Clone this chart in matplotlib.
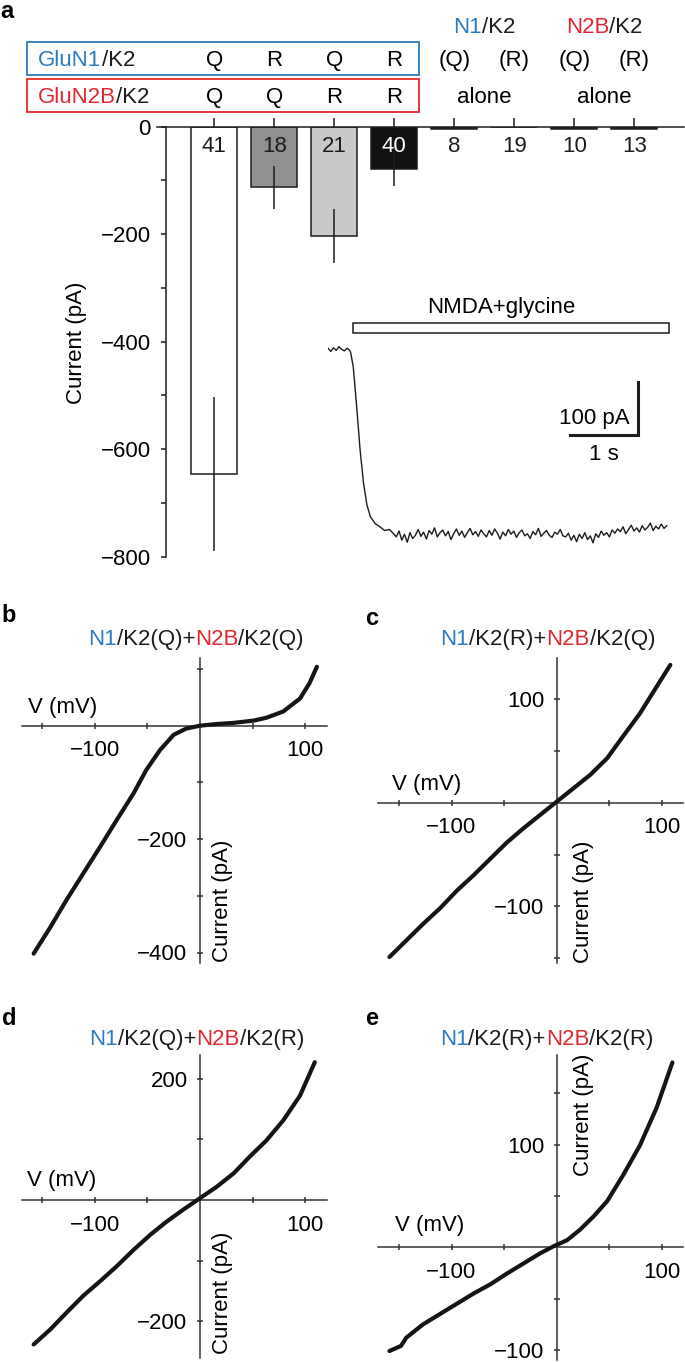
import numpy as np
import matplotlib.pyplot as plt
import matplotlib.transforms as mtransforms
from matplotlib.patches import Rectangle

plt.rcParams['font.family'] = ['Liberation Sans', 'DejaVu Sans']
plt.rcParams['font.size'] = 16
plt.rcParams['axes.linewidth'] = 1.1

W, H = 685, 1362
BLUE = '#2b7bbf'
RED = '#e3262d'
INK = '#1c1c1c'

# ===================== data: panel a (bar chart) =====================
n_cells = ['41', '18', '21', '40', '8', '19', '10', '13']
mean_current = [-646, -113, -203, -79, -4, 0, -4, -4]
sem_current = [143, 40, 50, 31, 0, 0, 0, 0]
bar_colors = ['white', '#8f9092', '#c8c9cb', '#111111', '#333333', '#333333', '#333333', '#333333']
row_n1 = ['Q', 'R', 'Q', 'R', '(Q)', '(R)', '(Q)', '(R)']
row_n2b = ['Q', 'Q', 'R', 'R']

# inset trace (s, pA): onset part, then plateau sampled every 0.04 s from 1.00 s
trace_t_onset = [0.00, 0.04, 0.08, 0.12, 0.16, 0.20, 0.24, 0.28, 0.31, 0.33, 0.37,
                 0.42, 0.47, 0.52, 0.57, 0.62, 0.69, 0.76, 0.83, 0.90, 0.96]
trace_i_onset = [2, -4, 3, -2, 5, 0, -3, 2, -1, -5, -33,
                 -108, -189, -251, -292, -314, -327, -333, -340, -338, -346]
trace_i_plateau = [
    -352, -341, -358, -347, -362, -344, -355,
    -349, -338, -351, -343, -356, -340, -347, -335, -352, -344, -339, -350, -342,
    -357, -346, -337, -349, -341, -353, -344, -336, -348, -342, -351, -339,
    -346, -352, -340, -349, -337, -345, -356, -343, -350, -338, -347, -341, -353,
    -344, -339, -350, -346, -355, -342, -348, -336, -351, -345, -340, -349, -353,
    -343, -347, -338, -350,
    -352, -345, -358, -349, -361, -347, -355, -344, -357, -350, -363, -346, -353,
    -341, -349, -344, -352, -339,
    -345, -337, -342, -333, -346, -338, -330, -341, -335, -343, -331, -339, -334,
    -326, -340, -332, -337, -328, -336, -331]

# ===================== data: panels b-e (I-V curves) =====================
V_b = [-158, -142, -127, -111, -95, -79, -63, -51, -38, -25, -13, 0, 16, 32, 51, 63, 79, 95, 104, 111]
I_b = [-402, -355, -308, -261, -214, -166, -119, -78, -43, -16, -5, 0, 3, 5, 9, 14, 25, 48, 75, 104]

V_c = [-159, -143, -127, -111, -95, -79, -63, -48, -32, -16, 0, 16, 32, 48, 63, 79, 95, 108]
I_c = [-149, -133, -117, -102, -85, -70, -54, -39, -25, -12, 1, 14, 27, 43, 64, 86, 112, 133]

V_d = [-158, -142, -127, -111, -95, -79, -63, -47, -32, -16, 0, 16, 32, 47, 63, 79, 95, 109]
I_d = [-238, -213, -186, -158, -134, -109, -82, -57, -36, -16, 3, 22, 44, 71, 98, 131, 172, 227]

V_e = [-159, -148, -143, -127, -111, -95, -79, -63, -48, -32, -16, -3, 10, 22, 35, 48, 63, 79, 95, 110]
I_e = [-101, -96, -88, -75, -65, -55, -45, -36, -26, -16, -6, 1, 7, 17, 30, 45, 70, 99, 136, 180]

fig = plt.figure(figsize=(W / 100, H / 100), dpi=100)


def fx(x):
    return x / W


def fy(y):
    return 1 - y / H


def axes_px(left, top, right, bottom):
    return fig.add_axes([fx(left), fy(bottom), (right - left) / W, (bottom - top) / H])


def multicolor(x, y, parts, ha='center', size=16):
    # place differently coloured pieces of one label next to each other
    r = fig.canvas.get_renderer()
    arts = [fig.text(0, fy(y), s, color=c, va='baseline', ha='left', fontsize=size) for s, c in parts]
    widths = [a.get_window_extent(r).width for a in arts]
    x0 = x - sum(widths) / 2 if ha == 'center' else x
    for a, w in zip(arts, widths):
        a.set_x(fx(x0))
        x0 += w


# ===================== panel a =====================
ax = axes_px(156.7, 126.7, 684, 556.7)
xpos = np.arange(len(n_cells))
ax.set_xlim(-0.96, 7.83)
ax.set_ylim(-800, 0)
ax.bar(xpos, mean_current, width=0.76, color=bar_colors, edgecolor=INK, linewidth=1.1, zorder=2)
ax.errorbar(xpos[:4], mean_current[:4], yerr=sem_current[:4], fmt='none',
            ecolor=INK, elinewidth=1.1, capsize=0, zorder=3)
for i, lbl in enumerate(n_cells):
    ax.text(i, -46.5, lbl, ha='center', va='baseline', fontsize=16,
            color='white' if i == 3 else INK, zorder=4)

for s in ['right', 'bottom']:
    ax.spines[s].set_visible(False)
ax.spines['left'].set_position(('data', -0.81))
ax.spines['top'].set_color(INK)
ax.spines['left'].set_color(INK)
ax.xaxis.tick_top()
ax.set_xticks(xpos)
ax.set_xticklabels([])
ax.tick_params(axis='x', direction='out', length=6.5, width=1.1, color=INK, top=True, bottom=False)
ax.set_yticks(np.arange(-800, 1, 100))
ax.set_yticklabels(['\u2212800', '', '\u2212600', '', '\u2212400', '', '\u2212200', '', '0'])
ax.tick_params(axis='y', direction='out', length=3.6, width=1.1, color=INK, pad=7, labelsize=16)
ax.patch.set_alpha(0)
fig.text(fx(76.7), fy(342.5), 'Current (pA)', rotation=90, ha='center', va='center', fontsize=16)

# header rows above the bars
hdr = mtransforms.blended_transform_factory(ax.transData, fig.transFigure)
for i, s in enumerate(row_n1):
    ax.text(i, fy(65.7), s, transform=hdr, ha='center', va='baseline', fontsize=16)
for i, s in enumerate(row_n2b):
    ax.text(i, fy(102.7), s, transform=hdr, ha='center', va='baseline', fontsize=16)
ax.text(4.5, fy(102.7), 'alone', transform=hdr, ha='center', va='baseline', fontsize=16)
ax.text(6.5, fy(102.7), 'alone', transform=hdr, ha='center', va='baseline', fontsize=16)

fig.add_artist(Rectangle((fx(27.3), fy(75)), (419.3 - 27.3) / W, (75 - 41.7) / H,
                         fill=False, edgecolor=BLUE, lw=1.3, transform=fig.transFigure))
fig.add_artist(Rectangle((fx(27.3), fy(112.3)), (419.3 - 27.3) / W, (112.3 - 79) / H,
                         fill=False, edgecolor=RED, lw=1.3, transform=fig.transFigure))
multicolor(38.3, 65.7, [('GluN1', BLUE), ('/K2', INK)], ha='left')
multicolor(38.3, 102.7, [('GluN2B', RED), ('/K2', INK)], ha='left')
multicolor(484.3, 32.7, [('N1', BLUE), ('/K2', INK)])
multicolor(604.3, 32.7, [('N2B', RED), ('/K2', INK)])

# inset current trace
axt = axes_px(328, 300, 328 + 5 * 68.3, 560)
axt.set_xlim(0, 5)
axt.set_ylim(-395.3, 92.5)
axt.axis('off')
t_plateau = 1.0 + 0.04 * np.arange(len(trace_i_plateau))
axt.plot(np.concatenate([trace_t_onset, t_plateau]),
         np.concatenate([trace_i_onset, trace_i_plateau]), color=INK, lw=1.0)
axt.add_patch(Rectangle((0.36, 31), 4.63, 19, facecolor='white', edgecolor=INK, lw=1.1))
axt.text(2.53, 67.5, 'NMDA+glycine', ha='center', va='baseline', fontsize=16)
axt.plot([3.54, 4.54, 4.54], [-161, -161, -61], color=INK, lw=2.2, solid_joinstyle='miter')
axt.text(4.42, -140, '100 pA', ha='right', va='baseline', fontsize=16)
axt.text(4.04, -207.5, '1 s', ha='center', va='baseline', fontsize=16)


# ===================== panels b-e =====================
def iv_panel(ox, oy, kx, ky, left, top, right, bottom, V, I, yticks, ylabels):
    a = axes_px(left, top, right, bottom)
    a.set_xlim((left - ox) / kx, (right - ox) / kx)
    a.set_ylim((oy - bottom) / ky, (oy - top) / ky)
    a.plot(V, I, color='#151515', lw=3.0, solid_capstyle='round', clip_on=False, zorder=3)
    for s in ['top', 'right']:
        a.spines[s].set_visible(False)
    for s in ['left', 'bottom']:
        a.spines[s].set_position(('data', 0))
        a.spines[s].set_color('#333333')
    a.set_xticks([-150, -100, -50, 50, 100])
    a.set_xticklabels(['', '\u2212100', '', '', '100'])
    a.set_yticks(yticks)
    a.set_yticklabels(ylabels)
    a.tick_params(axis='x', direction='inout', length=5, width=1.1, color='#333333', pad=8, labelsize=16)
    a.tick_params(axis='y', direction='inout', length=5, width=1.1, color='#333333', pad=6.5, labelsize=16)
    a.patch.set_alpha(0)
    return a


iv_panel(200, 725.7, 1.053, 0.567, 21.7, 658.3, 326.7, 963.3, V_b, I_b,
         [100, -100, -200, -300, -400], ['', '', '\u2212200', '', '\u2212400'])
iv_panel(556.7, 802.7, 1.052, 1.036, 378.3, 658.3, 683.3, 963.3, V_c, I_c,
         [100, 50, -50, -100, -150], ['100', '', '', '\u2212100', ''])
iv_panel(200, 1200, 1.053, 0.607, 21.7, 1055, 326.7, 1358, V_d, I_d,
         [200, 100, -100, -200], ['200', '', '', '\u2212200'])
iv_panel(556.7, 1247.3, 1.052, 1.027, 378.3, 1055, 683.3, 1360, V_e, I_e,
         [150, 100, 50, -50, -100], ['', '100', '', '', '\u2212100'])

# titles, axis names and panel letters
multicolor(196, 645, [('N1', BLUE), ('/K2(Q)+', INK), ('N2B', RED), ('/K2(Q)', INK)])
multicolor(548, 645, [('N1', BLUE), ('/K2(R)+', INK), ('N2B', RED), ('/K2(Q)', INK)])
multicolor(196.7, 1045, [('N1', BLUE), ('/K2(Q)+', INK), ('N2B', RED), ('/K2(R)', INK)])
multicolor(546.7, 1045, [('N1', BLUE), ('/K2(R)+', INK), ('N2B', RED), ('/K2(R)', INK)])

for x, y in [(28.3, 712.7), (391.7, 790), (26.7, 1185.7), (395, 1230.7)]:
    fig.text(fx(x), fy(y), 'V (mV)', ha='left', va='baseline', fontsize=16)
for x, y in [(222, 901), (583, 901.7), (222, 1292.5), (583, 1115)]:
    fig.text(fx(x), fy(y), 'Current (pA)', rotation=90, ha='center', va='center', fontsize=16)

for lbl, x, y in [('a', 0.5, 17.5), ('b', 1.7, 621.7), ('c', 365, 625), ('d', 1.7, 1025), ('e', 365, 1025)]:
    fig.text(fx(x), fy(y), lbl, ha='left', va='baseline', fontsize=17, fontweight='bold')

fig.savefig('out.png', dpi=100, facecolor='white')
